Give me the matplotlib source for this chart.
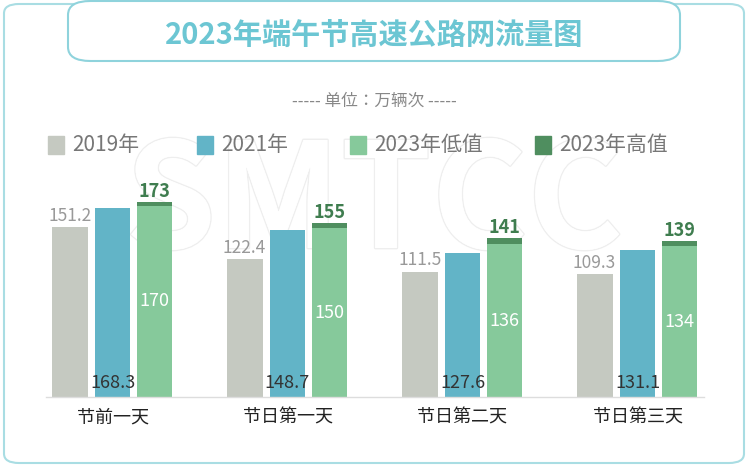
import matplotlib.pyplot as plt
from matplotlib.patches import FancyBboxPatch
from matplotlib import patheffects as pe
import numpy as np

plt.rcParams['font.family'] = 'sans-serif'
plt.rcParams['font.sans-serif'] = ['Noto Sans CJK SC', 'Noto Sans CJK JP', 'Noto Sans CJK TC', 'DejaVu Sans']

categories = ['节前一天', '节日第一天', '节日第二天', '节日第三天']
v2019 = [151.2, 122.4, 111.5, 109.3]
v2021 = [168.3, 148.7, 127.6, 131.1]
v2023_low = [170, 150, 136, 134]
v2023_high = [173, 155, 141, 139]
legend_labels = ['2019年', '2021年', '2023年低值', '2023年高值']

W, H = 748, 467
fig = plt.figure(figsize=(W/100, H/100), dpi=100)
fig.patch.set_facecolor('white')

c19, c21, clo, chi = '#c5c9c1', '#62b4c7', '#86c99b', '#4f8e5f'

fig.patches.append(FancyBboxPatch((4/W, 4/H), 740/W, 459/H, boxstyle='round,pad=0,rounding_size=0.02',
                                  transform=fig.transFigure, fill=False, ec='#a9dde3', lw=1.5))
fig.patches.append(FancyBboxPatch((68/W, 406/H), 612/W, 60/H, boxstyle='round,pad=0,rounding_size=0.03',
                                  transform=fig.transFigure, fc='white', ec='#8fd3dc', lw=1.5))
fig.text(0.5, 432/H, '2023年端午节高速公路网流量图', ha='center', va='center', fontsize=21,
         color='#6cc6d3', fontweight='bold')
fig.text(0.5, 366/H, '----- 单位：万辆次 -----', ha='center', va='center', fontsize=12, color='#888888')

lx = [48, 197, 350, 535]
for x, lab, c in zip(lx, legend_labels, [c19, c21, clo, chi]):
    fig.patches.append(plt.Rectangle((x/W, 313/H), 16/W, 18/H, transform=fig.transFigure, color=c))
    fig.text((x+24)/W, 322/H, lab, ha='left', va='center', fontsize=15, color='#777777')

wm = fig.text(0.5, 262/H, 'SMTCC', ha='center', va='center', fontsize=105, color='white',
              fontweight='bold', zorder=0.5)
wm.set_path_effects([pe.withStroke(linewidth=2, foreground='#eeeeee'), pe.Normal()])

ax = fig.add_axes([25/W, 70/H, 700/W, 225/H], zorder=1)
ax.set_xlim(-0.5, 3.5)
ax.set_ylim(0, 200)
ax.axis('off')

x = np.arange(len(categories))
w = 0.205
o19, o21, o23 = -0.245, 0.0, 0.24
ax.bar(x+o19, v2019, w, color=c19, zorder=2)
ax.bar(x+o21, v2021, w, color=c21, zorder=2)
ax.bar(x+o23, v2023_low, w, color=clo, zorder=2)
ax.bar(x+o23, np.array(v2023_high)-np.array(v2023_low), w, bottom=v2023_low, color=chi, zorder=2)
ax.plot([-0.38, 3.38], [0, 0], color='#dddddd', lw=1, zorder=3, clip_on=False)

for i in range(len(categories)):
    ax.text(x[i]+o19, v2019[i]+2, f'{v2019[i]}', ha='center', va='bottom', fontsize=12.5, color='#999999')
    ax.text(x[i]+o21, 12, f'{v2021[i]}', ha='center', va='center', fontsize=13, color='#333333', zorder=4)
    ax.text(x[i]+o23, v2023_low[i]/2, f'{v2023_low[i]}', ha='center', va='center', fontsize=13, color='white', zorder=4)
    ax.text(x[i]+o23, v2023_high[i]+1, f'{v2023_high[i]}', ha='center', va='bottom', fontsize=13,
            color='#3f7d4f', fontweight='bold')
    ax.text(x[i], -18, categories[i], ha='center', va='center', fontsize=13, color='#222222', clip_on=False)

fig.savefig('out.png', dpi=100)
